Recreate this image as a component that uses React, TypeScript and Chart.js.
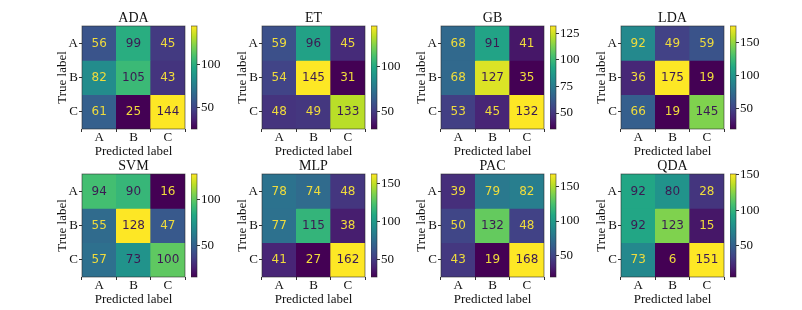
import React, { useEffect, useRef } from "react";
import { Chart, registerables } from "chart.js";

Chart.register(...registerables);

// ---------------- data ----------------
const classLabels = ["A", "B", "C"];
const modelNames = ["ADA", "ET", "GB", "LDA", "SVM", "MLP", "PAC", "QDA"];

const adaMatrix = [[56, 99, 45], [82, 105, 43], [61, 25, 144]];
const etMatrix = [[59, 96, 45], [54, 145, 31], [48, 49, 133]];
const gbMatrix = [[68, 91, 41], [68, 127, 35], [53, 45, 132]];
const ldaMatrix = [[92, 49, 59], [36, 175, 19], [66, 19, 145]];
const svmMatrix = [[94, 90, 16], [55, 128, 47], [57, 73, 100]];
const mlpMatrix = [[78, 74, 48], [77, 115, 38], [41, 27, 162]];
const pacMatrix = [[39, 79, 82], [50, 132, 48], [43, 19, 168]];
const qdaMatrix = [[92, 80, 28], [92, 123, 15], [73, 6, 151]];

const matrices = [adaMatrix, etMatrix, gbMatrix, ldaMatrix, svmMatrix, mlpMatrix, pacMatrix, qdaMatrix];
const colorbarSteps = [50, 50, 25, 50, 50, 50, 50, 50];

// ---------------- layout / style ----------------
const SERIF = "'Liberation Serif', 'DejaVu Serif', serif";
const SANS = "'DejaVu Sans', 'Noto Sans', sans-serif";
const COL_X = [82, 262, 441, 621];
const ROW_Y = [26, 174];
const CELL_SIZE = 103;
const CB_GAP = 6;
const CB_W = 6;
const Y_AXIS_W = 32;
const TITLE_H = 26;
const X_AXIS_H = 30;
const TEXT = "#111";

const VIRIDIS = [
  "#440154", "#482475", "#414487", "#355f8d", "#2a788e",
  "#21918c", "#22a884", "#44bf70", "#7ad151", "#bddf26", "#fde725",
];

function hexToRgb(h: string) {
  const n = parseInt(h.slice(1), 16);
  return [(n >> 16) & 255, (n >> 8) & 255, n & 255];
}

function viridis(t: number) {
  const tt = Math.max(0, Math.min(1, t)) * (VIRIDIS.length - 1);
  const i = Math.min(Math.floor(tt), VIRIDIS.length - 2);
  const f = tt - i;
  const a = hexToRgb(VIRIDIS[i]);
  const b = hexToRgb(VIRIDIS[i + 1]);
  const c = a.map((v, k) => Math.round(v + (b[k] - v) * f));
  return `rgb(${c[0]},${c[1]},${c[2]})`;
}

const framePlugin = {
  id: "frame",
  afterDatasetsDraw(chart: any) {
    const { ctx, chartArea } = chart;
    ctx.save();
    ctx.strokeStyle = "rgba(40,40,40,0.7)";
    ctx.lineWidth = 0.8;
    ctx.strokeRect(chartArea.left, chartArea.top, chartArea.right - chartArea.left, chartArea.bottom - chartArea.top);
    ctx.restore();
  },
};

const panelTitlePlugin = {
  id: "panelTitle",
  afterDraw(chart: any) {
    const { ctx, chartArea } = chart;
    const text = (chart.options as any).plugins.panelTitle.text;
    ctx.save();
    ctx.font = `14px ${SERIF}`;
    ctx.fillStyle = TEXT;
    ctx.textAlign = "center";
    ctx.textBaseline = "middle";
    ctx.fillText(text, (chartArea.left + chartArea.right) / 2, chartArea.top - 8);
    ctx.restore();
  },
};

const cellTextPlugin = {
  id: "cellText",
  afterDatasetsDraw(chart: any) {
    const { ctx } = chart;
    const thr = (chart.options as any).plugins.cellText.threshold;
    ctx.save();
    ctx.font = `12px ${SANS}`;
    ctx.textAlign = "center";
    ctx.textBaseline = "middle";
    chart.data.datasets.forEach((ds: any, r: number) => {
      const meta = chart.getDatasetMeta(r);
      meta.data.forEach((bar: any, c: number) => {
        const p = bar.getProps(["x", "y", "base"], true);
        const v = ds.values[c];
        ctx.fillStyle = v < thr ? "#f0dc3c" : "#3b1a52";
        ctx.fillText(String(v), p.x, (p.y + p.base) / 2 + 0.5);
      });
    });
    ctx.restore();
  },
};

function Panel({ index }: { index: number }) {
  const heatRef = useRef<HTMLCanvasElement>(null);
  const cbRef = useRef<HTMLCanvasElement>(null);
  const matrix = matrices[index];
  const title = modelNames[index];
  const step = colorbarSteps[index];
  const hx = COL_X[index % 4];
  const hy = ROW_Y[Math.floor(index / 4)];
  const flat = matrix.flat();
  const vmin = Math.min(...flat);
  const vmax = Math.max(...flat);

  useEffect(() => {
    const heat = new Chart(heatRef.current as HTMLCanvasElement, {
      type: "bar",
      data: {
        labels: classLabels,
        datasets: matrix.map((row, r) => ({
          label: classLabels[r],
          data: row.map(() => [r, r + 1]),
          values: row,
          backgroundColor: row.map((v) => viridis((v - vmin) / (vmax - vmin))),
          borderWidth: 0,
          barPercentage: 1,
          categoryPercentage: 1,
          grouped: false,
        })) as any,
      },
      options: {
        responsive: false,
        animation: false,
        devicePixelRatio: 1,
        layout: { padding: { left: 0, right: 2, top: TITLE_H, bottom: 0 } },
        plugins: {
          legend: { display: false },
          tooltip: { enabled: false },
          title: { display: false },
          panelTitle: { text: title },
          cellText: { threshold: (vmin + vmax) / 2 },
        } as any,
        scales: {
          x: {
            type: "category",
            offset: true,
            grid: { display: true, drawOnChartArea: false, drawTicks: true, tickLength: 3, color: "#333" },
            border: { display: false },
            ticks: { color: TEXT, font: { family: SERIF, size: 13, lineHeight: 1 }, padding: -1, maxRotation: 0, autoSkip: false },
            title: {
              display: true,
              text: "Predicted label",
              color: TEXT,
              font: { family: SERIF, size: 13, lineHeight: 1.2 },
              padding: { top: 0, bottom: -0.8 },
            },
            afterFit: (s: any) => {
              s.height = X_AXIS_H;
              s.paddingLeft = 0;
              s.paddingRight = 0;
            },
          },
          y: {
            type: "linear",
            min: 0,
            max: 3,
            reverse: true,
            grid: { display: true, drawOnChartArea: false, drawTicks: true, tickLength: 3, color: "#333" },
            border: { display: false },
            afterBuildTicks: (s: any) => {
              s.ticks = classLabels.map((_, i) => ({ value: i + 0.5 }));
            },
            ticks: {
              color: TEXT,
              font: { family: SERIF, size: 13, lineHeight: 1 },
              padding: 1,
              callback: (v: any) => classLabels[Math.floor(Number(v))],
            },
            title: {
              display: true,
              text: "True label",
              color: TEXT,
              font: { family: SERIF, size: 13, lineHeight: 1.2 },
              padding: { top: 4.7, bottom: 0 },
            },
            afterFit: (s: any) => {
              s.width = Y_AXIS_W;
              s.paddingTop = 0;
              s.paddingBottom = 0;
            },
          },
        },
      } as any,
      plugins: [framePlugin, cellTextPlugin, panelTitlePlugin],
    });

    const cb = new Chart(cbRef.current as HTMLCanvasElement, {
      type: "bar",
      data: {
        labels: ["cb"],
        datasets: [
          {
            data: [[vmin, vmax]],
            borderWidth: 0,
            barPercentage: 1,
            categoryPercentage: 1,
            backgroundColor: (ctx: any) => {
              const chart = ctx.chart;
              const ys = chart.scales && chart.scales.y;
              if (!chart.chartArea || !ys) return viridis(0.5);
              const g = chart.ctx.createLinearGradient(0, ys.getPixelForValue(vmin), 0, ys.getPixelForValue(vmax));
              VIRIDIS.forEach((col, i) => g.addColorStop(i / (VIRIDIS.length - 1), col));
              return g;
            },
          },
        ] as any,
      },
      options: {
        responsive: false,
        animation: false,
        devicePixelRatio: 1,
        layout: { padding: { left: 0, right: 0, top: 10, bottom: 10 } },
        plugins: { legend: { display: false }, tooltip: { enabled: false } },
        scales: {
          x: { display: false, offset: true },
          y: {
            type: "linear",
            position: "right",
            min: vmin,
            max: vmax,
            grid: { display: true, drawOnChartArea: false, drawTicks: true, tickLength: 3, color: "#333" },
            border: { display: false },
            afterBuildTicks: (s: any) => {
              const t: any[] = [];
              for (let v = Math.ceil(vmin / step) * step; v <= vmax; v += step) t.push({ value: v });
              s.ticks = t;
            },
            ticks: { color: TEXT, font: { family: SERIF, size: 13, lineHeight: 1 }, padding: 1 },
            afterFit: (s: any) => {
              s.width = 32;
              s.paddingTop = 0;
              s.paddingBottom = 0;
            },
          },
        },
      } as any,
      plugins: [framePlugin],
    });

    return () => {
      heat.destroy();
      cb.destroy();
    };
  }, []);

  const heatW = Y_AXIS_W + CELL_SIZE + 2;
  const heatH = TITLE_H + CELL_SIZE + X_AXIS_H;
  return (
    <>
      <canvas
        ref={heatRef}
        width={heatW}
        height={heatH}
        style={{ position: "absolute", left: hx - Y_AXIS_W, top: hy - TITLE_H, width: heatW, height: heatH }}
      />
      <canvas
        ref={cbRef}
        width={CB_W + 32}
        height={CELL_SIZE + 20}
        style={{ position: "absolute", left: hx + CELL_SIZE + CB_GAP, top: hy - 10, width: CB_W + 32, height: CELL_SIZE + 20 }}
      />
    </>
  );
}

export default function App() {
  return (
    <div style={{ position: "absolute", left: 0, top: 0, width: 802, height: 310, background: "#fff", overflow: "hidden" }}>
      {modelNames.map((_, i) => (
        <Panel key={i} index={i} />
      ))}
    </div>
  );
}
